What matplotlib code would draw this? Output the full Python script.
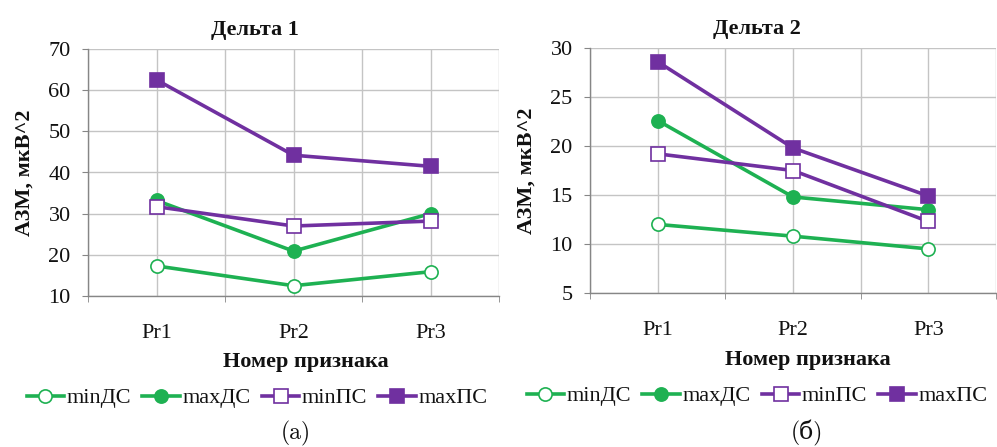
import matplotlib
matplotlib.use("Agg")
import matplotlib.pyplot as plt
from matplotlib.ticker import MultipleLocator, FixedLocator

categories = ["Pr1", "Pr2", "Pr3"]
series_names = ["minДС", "maxДС", "minПС", "maxПС"]

d1_minDS = [17.3, 12.5, 15.9]
d1_maxDS = [33.2, 20.9, 30.0]
d1_minPS = [31.7, 27.0, 28.2]
d1_maxPS = [62.5, 44.2, 41.5]

d2_minDS = [12.0, 10.8, 9.5]
d2_maxDS = [22.6, 14.8, 13.5]
d2_minPS = [19.2, 17.5, 12.3]
d2_maxPS = [28.6, 19.8, 14.9]

titles = ["Дельта 1", "Дельта 2"]
captions = ["(a)", "(б)"]
ylabel = "АЗМ, мкВ^2"
xlabel = "Номер признака"

GREEN = "#1EB152"
PURPLE = "#7030A0"
GRID = "#C4C4C4"
AXC = "#868686"
TXT = "#111111"
SERIF = ["Liberation Serif", "DejaVu Serif"]

fig = plt.figure(figsize=(9.97, 4.47), dpi=100)

def px(x0, y0, x1, y1):
    W, H = 997, 447
    return [x0 / W, 1 - y1 / H, (x1 - x0) / W, (y1 - y0) / H]

panels = [
    dict(rect=px(88, 49, 499, 296), data=[d1_minDS, d1_maxDS, d1_minPS, d1_maxPS],
         ylim=(10, 70), step=10, tx=0.406),
    dict(rect=px(590, 48, 996, 293), data=[d2_minDS, d2_maxDS, d2_minPS, d2_maxPS],
         ylim=(5, 30), step=5, tx=0.411),
]

styles = [
    dict(color=GREEN, marker="o", mfc="white", mec=GREEN, ms=9.5, mew=1.2),
    dict(color=GREEN, marker="o", mfc=GREEN, mec=GREEN, ms=9.5, mew=1.2),
    dict(color=PURPLE, marker="s", mfc="white", mec=PURPLE, ms=10.5, mew=1.2),
    dict(color=PURPLE, marker="s", mfc=PURPLE, mec=PURPLE, ms=10.5, mew=1.2),
]

x = list(range(len(categories)))
axes = []
for i, p in enumerate(panels):
    ax = fig.add_axes(p["rect"])
    axes.append(ax)
    for vals, st, name in zip(p["data"], styles, series_names):
        ax.plot(x, vals, lw=2.6, label=name, zorder=3, clip_on=False, **st)
    ax.set_xlim(-0.5, 2.5)
    ax.set_ylim(*p["ylim"])
    ax.yaxis.set_major_locator(MultipleLocator(p["step"]))
    ax.xaxis.set_major_locator(FixedLocator(x))
    ax.xaxis.set_minor_locator(FixedLocator([-0.5, 0.5, 1.5, 2.5]))
    ax.set_xticklabels(categories)
    ax.grid(True, which="both", axis="x", color=GRID, lw=1.0, zorder=0)
    ax.grid(True, which="major", axis="y", color=GRID, lw=1.0, zorder=0)
    for s in ["top", "right"]:
        ax.spines[s].set_visible(False)
    for s in ["left", "bottom"]:
        ax.spines[s].set_color(AXC)
        ax.spines[s].set_linewidth(1.0)
    ax.tick_params(axis="x", which="major", length=0, pad=20, labelsize=16,
                   labelcolor=TXT)
    ax.tick_params(axis="x", which="minor", length=4.5, color=AXC, direction="out")
    ax.tick_params(axis="y", length=4.5, color=AXC, direction="out", pad=8,
                   labelsize=16, labelcolor=TXT)
    for lab in ax.get_xticklabels() + ax.get_yticklabels():
        lab.set_family(SERIF)
    ax.set_title(titles[i], family=SERIF, fontweight="bold", fontsize=16, pad=10,
                 color=TXT, x=p["tx"])
    ax.set_ylabel(ylabel, family=SERIF, fontweight="bold", fontsize=16, labelpad=10,
                  color=TXT)
    ax.set_axisbelow(True)

# x labels, legends, captions
fig.text(306 / 997, 1 - 362 / 447, xlabel, family=SERIF, fontweight="bold",
         fontsize=16, ha="center", va="center", color=TXT)
fig.text(808 / 997, 1 - 360 / 447, xlabel, family=SERIF, fontweight="bold",
         fontsize=16, ha="center", va="center", color=TXT)

for cxp, cap in zip([296, 807], captions):
    fig.text(cxp / 997, 1 - 433 / 447, cap, family=["cmr10", "DejaVu Serif"],
             fontsize=17, ha="center", va="center", color=TXT)

for ax, lx, ly in zip(axes, [257, 757], [398, 396]):
    h, l = ax.get_legend_handles_labels()
    leg = fig.legend(h, l, loc="center", bbox_to_anchor=(lx / 997, 1 - ly / 447),
                     ncol=4, frameon=False, prop={"family": SERIF, "size": 16},
                     handlelength=1.7, handletextpad=0.1, columnspacing=0.5,
                     borderaxespad=0, borderpad=0, labelcolor=TXT)

fig.savefig("out.png", dpi=100)
